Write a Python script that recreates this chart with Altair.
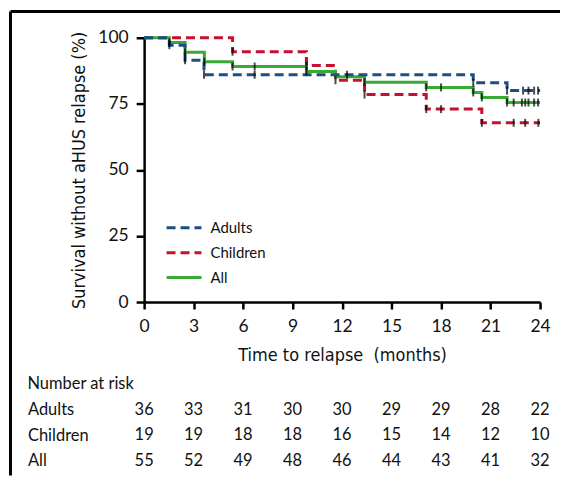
import altair as alt
import pandas as pd

groups = ["Adults", "Children", "All"]
colors = ["#1f4e85", "#c8102e", "#3aaa35"]
dashes = [[9, 5], [9, 5], [1, 0]]

# Kaplan-Meier steps (time in months, survival %)
adults_t = [0, 1.53, 2.48, 3.63, 19.95, 22.0, 24.0]
adults_s = [100, 97.2, 91.5, 86.0, 83.0, 80.0, 80.0]
children_t = [0, 5.36, 9.84, 11.6, 13.36, 17.1, 20.47, 24.0]
children_s = [100, 94.7, 89.5, 83.9, 78.5, 73.0, 67.8, 67.8]
all_t = [0, 1.53, 2.48, 3.65, 5.36, 9.84, 11.6, 13.36, 17.1, 19.95, 20.47, 22.0, 24.0]
all_s = [100, 98.2, 94.5, 90.9, 89.1, 87.2, 85.2, 83.2, 81.2, 79.3, 77.4, 75.5, 75.5]

# censoring marks (time, survival %)
adults_ct = [1.53, 2.48, 3.63, 6.7, 12.3, 19.95, 22.0, 22.97, 23.3, 23.64, 23.88]
adults_cs = [97.2, 91.5, 86.0, 86.0, 86.0, 83.0, 80.0, 80.0, 80.0, 80.0, 80.0]
children_ct = [5.36, 9.84, 11.6, 13.36, 17.1, 18.0, 20.47, 22.4, 23.1, 23.9]
children_cs = [94.7, 89.5, 83.9, 78.5, 73.0, 73.0, 67.8, 67.8, 67.8, 67.8]
all_ct = [1.53, 2.48, 3.65, 5.36, 6.7, 9.84, 13.36, 17.1, 18.0, 19.95, 20.47,
          22.0, 22.4, 22.9, 23.1, 23.3, 23.64, 23.88]
all_cs = [98.2, 94.5, 90.9, 89.1, 89.1, 87.2, 83.2, 81.2, 81.2, 79.3, 77.4,
          75.5, 75.5, 75.5, 75.5, 75.5, 75.5, 75.5]

# number at risk
risk_times = [0, 3, 6, 9, 12, 15, 18, 21, 24]
risk_adults = [36, 33, 31, 30, 30, 29, 29, 28, 22]
risk_children = [19, 19, 18, 18, 16, 15, 14, 12, 10]
risk_all = [55, 52, 49, 48, 46, 44, 43, 41, 32]

x_ticks = [0, 3, 6, 9, 12, 15, 18, 21, 24]
y_ticks = [0, 25, 50, 75, 100]

LABEL_FONT = "Lato"
TITLE_FONT = "DejaVu Sans Condensed, Roboto, sans-serif"

curves = pd.concat([
    pd.DataFrame({"t": adults_t, "s": adults_s, "group": "Adults"}),
    pd.DataFrame({"t": children_t, "s": children_s, "group": "Children"}),
    pd.DataFrame({"t": all_t, "s": all_s, "group": "All"}),
])
cens = pd.concat([
    pd.DataFrame({"t": adults_ct, "s": adults_cs, "group": "Adults"}),
    pd.DataFrame({"t": children_ct, "s": children_cs, "group": "Children"}),
    pd.DataFrame({"t": all_ct, "s": all_cs, "group": "All"}),
])
risk_df = pd.concat([
    pd.DataFrame({"time": risk_times, "n": risk_adults, "group": "Adults"}),
    pd.DataFrame({"time": risk_times, "n": risk_children, "group": "Children"}),
    pd.DataFrame({"time": risk_times, "n": risk_all, "group": "All"}),
])

x_enc = alt.X("t:Q", scale=alt.Scale(domain=[0, 24], nice=False),
              axis=alt.Axis(values=x_ticks, title="Time to relapse\u00a0 (months)",
                            tickSize=7, labelPadding=9, titlePadding=11, labelFlush=False))
y_enc = alt.Y("s:Q", scale=alt.Scale(domain=[0, 100], nice=False),
              axis=alt.Axis(values=y_ticks, title="Survival without aHUS relapse (%)",
                            tickSize=8, labelPadding=8, titlePadding=9))

color_enc = alt.Color("group:N", scale=alt.Scale(domain=groups, range=colors),
                      legend=alt.Legend(title=None, orient="none", legendX=28.5, legendY=179,
                                        symbolType="M-1.75,0H1.75", symbolSize=400,
                                        symbolStrokeWidth=3, labelFont=LABEL_FONT,
                                        labelFontSize=15, labelColor="#111",
                                        labelOffset=15, rowPadding=5, padding=0))
dash_enc = alt.StrokeDash("group:N", scale=alt.Scale(domain=groups, range=dashes), legend=None)

base = alt.Chart(curves)
layers = []
for g in ["Children", "All", "Adults"]:
    layers.append(
        base.transform_filter(alt.datum.group == g)
        .mark_line(interpolate="step-after", strokeWidth=3, strokeCap="butt")
        .encode(x=x_enc, y=y_enc, color=color_enc, strokeDash=dash_enc)
    )

ticks = alt.Chart(cens).mark_tick(orient="vertical", color="black", thickness=2, size=8).encode(
    x="t:Q", y="s:Q")

frame_df = pd.DataFrame({"a": [0]})
frame_left = alt.Chart(frame_df).mark_rule(color="black", strokeWidth=3).encode(
    x=alt.value(-134), y=alt.value(-26.3), y2=alt.value(439))
frame_top = alt.Chart(frame_df).mark_rule(color="black", strokeWidth=3).encode(
    x=alt.value(-134), x2=alt.value(417), y=alt.value(-26.3))

top = alt.layer(*layers, ticks, frame_left, frame_top).properties(width=397, height=265)

risk = alt.Chart(risk_df).mark_text(font=LABEL_FONT, fontSize=16.5, color="#111").encode(
    x=alt.X("time:Q", scale=alt.Scale(domain=[0, 24], nice=False), axis=None),
    y=alt.Y("group:N", sort=groups, title=None,
            axis=alt.Axis(domain=False, ticks=False, tickSize=0, labelAlign="left",
                          labelPadding=117, labelFont=LABEL_FONT, labelFontSize=16.5,
                          labelColor="#111")),
    text="n:Q",
).properties(width=397, height=77,
             title=alt.TitleParams("Number at risk", anchor="start", frame="bounds",
                                   font=LABEL_FONT, fontSize=16.5, fontWeight="normal",
                                   color="#111", offset=4))

chart = alt.vconcat(top, risk, spacing=95, bounds="flush").properties(
    padding={"left": 0.5, "top": 1.2, "right": 0, "bottom": 0}
).configure_view(stroke=None).configure_axis(
    grid=False, domainColor="black", domainWidth=2.5, tickColor="black", tickWidth=2.5,
    labelFont=LABEL_FONT, labelFontSize=17.5, labelColor="#111",
    titleFont=TITLE_FONT, titleFontSize=18, titleFontWeight="normal", titleColor="#111",
)

chart.save("out.html", embed_options={"renderer": "svg", "actions": False})
